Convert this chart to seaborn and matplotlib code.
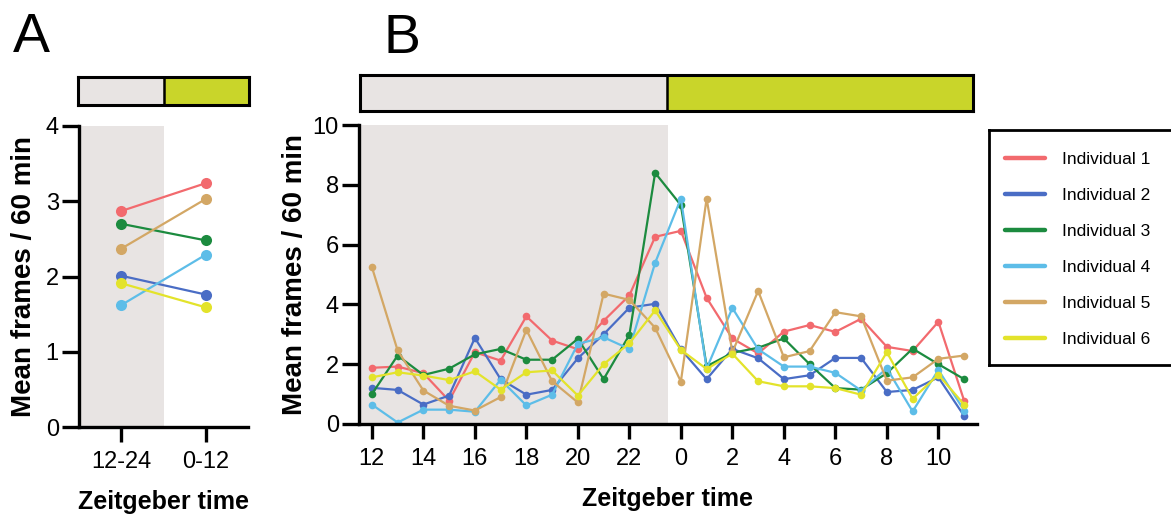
import pandas as pd
import matplotlib
matplotlib.use("Agg")
import matplotlib.pyplot as plt
import seaborn as sns
from matplotlib.lines import Line2D

# ---- data ----
individuals = ["Individual 1", "Individual 2", "Individual 3",
               "Individual 4", "Individual 5", "Individual 6"]
colors = ["#F26A6E", "#4A6DC5", "#1C8B3F", "#5DBDE8", "#D3A765", "#E3E32B"]

# panel A: mean per phase
phases = ["12-24", "0-12"]
a_ind1 = [2.87, 3.24]
a_ind2 = [2.01, 1.76]
a_ind3 = [2.70, 2.48]
a_ind4 = [1.62, 2.29]
a_ind5 = [2.37, 3.03]
a_ind6 = [1.91, 1.59]

# panel B: hourly means, ZT12 -> ZT11
hours = [12, 13, 14, 15, 16, 17, 18, 19, 20, 21, 22, 23,
         0, 1, 2, 3, 4, 5, 6, 7, 8, 9, 10, 11]
b_ind1 = [1.88, 1.92, 1.70, 0.78, 2.40, 2.12, 3.60, 2.79, 2.50, 3.45, 4.30, 6.26,
          6.46, 4.22, 2.86, 2.36, 3.09, 3.31, 3.08, 3.52, 2.58, 2.44, 3.42, 0.78]
b_ind2 = [1.21, 1.14, 0.65, 0.95, 2.88, 1.50, 0.98, 1.14, 2.20, 3.00, 3.89, 4.02,
          2.50, 1.50, 2.51, 2.20, 1.50, 1.63, 2.21, 2.21, 1.07, 1.14, 1.56, 0.27]
b_ind3 = [1.00, 2.29, 1.64, 1.85, 2.33, 2.51, 2.15, 2.15, 2.85, 1.50, 2.98, 8.40,
          7.32, 1.93, 2.38, 2.55, 2.86, 2.00, 1.20, 1.15, 1.70, 2.52, 2.00, 1.50]
b_ind4 = [0.65, 0.05, 0.48, 0.48, 0.41, 1.48, 0.62, 0.98, 2.68, 2.90, 2.51, 5.39,
          7.54, 1.85, 3.88, 2.50, 1.92, 1.92, 1.71, 1.12, 1.86, 0.42, 1.81, 0.45]
b_ind5 = [5.25, 2.46, 1.12, 0.61, 0.45, 0.90, 3.15, 1.43, 0.72, 4.36, 4.15, 3.22,
          1.42, 7.54, 2.40, 4.45, 2.23, 2.44, 3.74, 3.60, 1.45, 1.56, 2.18, 2.29]
b_ind6 = [1.56, 1.73, 1.62, 1.47, 1.76, 1.15, 1.73, 1.79, 0.95, 2.00, 2.70, 3.80,
          2.48, 1.84, 2.35, 1.43, 1.26, 1.26, 1.20, 0.98, 2.40, 0.84, 1.65, 0.65]

a_vals = [a_ind1, a_ind2, a_ind3, a_ind4, a_ind5, a_ind6]
b_vals = [b_ind1, b_ind2, b_ind3, b_ind4, b_ind5, b_ind6]

rows_a = []
for name, vals in zip(individuals, a_vals):
    for i, v in enumerate(vals):
        rows_a.append({"pos": i, "value": v, "ind": name})
df_a = pd.DataFrame(rows_a)

rows_b = []
for name, vals in zip(individuals, b_vals):
    for i, v in enumerate(vals):
        rows_b.append({"pos": i, "value": v, "ind": name})
df_b = pd.DataFrame(rows_b)

palette = dict(zip(individuals, colors))
shade = "#E8E4E3"
light_green = "#C9D52A"

# ---- style ----
sns.set_style("ticks")
plt.rcParams["font.family"] = ["Liberation Sans", "DejaVu Sans"]
plt.rcParams["text.color"] = "black"
plt.rcParams["axes.labelcolor"] = "black"

W, H = 1171, 515
fig = plt.figure(figsize=(W / 100, H / 100), dpi=100)


def px_axes(left, top, right, bottom):
    return fig.add_axes([left / W, 1 - bottom / H, (right - left) / W, (bottom - top) / H])


def style_axis(ax):
    sns.despine(ax=ax)
    for s in ["left", "bottom"]:
        ax.spines[s].set_linewidth(2.4)
        ax.spines[s].set_color("black")
    ax.tick_params(axis="both", width=2.4, length=11, labelsize=17,
                   colors="black", labelcolor="black")
    ax.tick_params(axis="x", pad=6.5)
    ax.tick_params(axis="y", length=12, pad=2.5)
    ax.set_facecolor("white")


def phase_bar(ax):
    ax.axvspan(0, 0.5, color=shade)
    ax.axvspan(0.5, 1, color=light_green)
    ax.axvline(0.5, color="black", lw=1.8)
    ax.set_xlim(0, 1)
    ax.set_ylim(0, 1)
    ax.set_xticks([])
    ax.set_yticks([])
    for s in ax.spines.values():
        s.set_visible(True)
        s.set_linewidth(2.2)
        s.set_color("black")


# ---- panel A ----
axA = px_axes(79, 126, 248, 427)
axA.axvspan(-0.5, 0.5, color=shade, zorder=0, lw=0)
sns.lineplot(data=df_a, x="pos", y="value", hue="ind", palette=palette,
             marker="o", markersize=8, markeredgewidth=0, linewidth=1.6,
             legend=False, ax=axA)
axA.set_xlim(-0.5, 1.5)
axA.set_ylim(0, 4)
axA.set_xticks([0, 1])
axA.set_xticklabels(phases)
axA.set_yticks([0, 1, 2, 3, 4])
axA.set_xlabel("Zeitgeber time", fontsize=18, fontweight="bold", labelpad=12)
axA.set_ylabel("Mean frames / 60 min", fontsize=20, fontweight="bold", labelpad=6)
style_axis(axA)

barA = px_axes(78, 77, 249, 105)
phase_bar(barA)

# ---- panel B ----
axB = px_axes(359, 125, 977, 424)
axB.axvspan(-0.5, 11.5, color=shade, zorder=0, lw=0)
sns.lineplot(data=df_b, x="pos", y="value", hue="ind", palette=palette,
             marker="o", markersize=5.5, markeredgewidth=0, linewidth=1.6,
             legend=False, ax=axB)
axB.set_xlim(-0.5, 23.5)
axB.set_ylim(0, 10)
axB.set_xticks(range(0, 24, 2))
axB.set_xticklabels([str(h) for h in hours[::2]])
axB.set_yticks(range(0, 11, 2))
axB.set_xlabel("Zeitgeber time", fontsize=18, fontweight="bold", labelpad=12)
axB.set_ylabel("Mean frames / 60 min", fontsize=20, fontweight="bold", labelpad=3)
style_axis(axB)

barB = px_axes(360, 75, 973, 111)
phase_bar(barB)

# ---- legend (box runs off the right edge, as in the original) ----
handles = [Line2D([0], [0], color=c, lw=3.2) for c in colors]
leg = fig.legend(handles, individuals, loc="upper left",
                 bbox_to_anchor=(1005 / W, 1 - 152 / H),
                 borderaxespad=0, fontsize=12.5, frameon=False,
                 borderpad=0, handlelength=2.3, handletextpad=1.0,
                 labelspacing=1.2)
for t in leg.get_texts():
    t.set_color("black")

box_l, box_t, box_b, box_r = 989, 130, 365, 1230
for xs, ys in [([box_l, box_l], [box_t, box_b]),
               ([box_l, box_r], [box_t, box_t]),
               ([box_l, box_r], [box_b, box_b])]:
    fig.add_artist(Line2D([x / W for x in xs], [1 - y / H for y in ys],
                          transform=fig.transFigure, color="black",
                          linewidth=2.0, solid_capstyle="projecting"))

# panel letters
fig.text(13 / W, 1 - 52 / H, "A", fontsize=40, va="baseline", ha="left")
fig.text(384 / W, 1 - 53 / H, "B", fontsize=40, va="baseline", ha="left")

fig.savefig("out.png", dpi=100)
